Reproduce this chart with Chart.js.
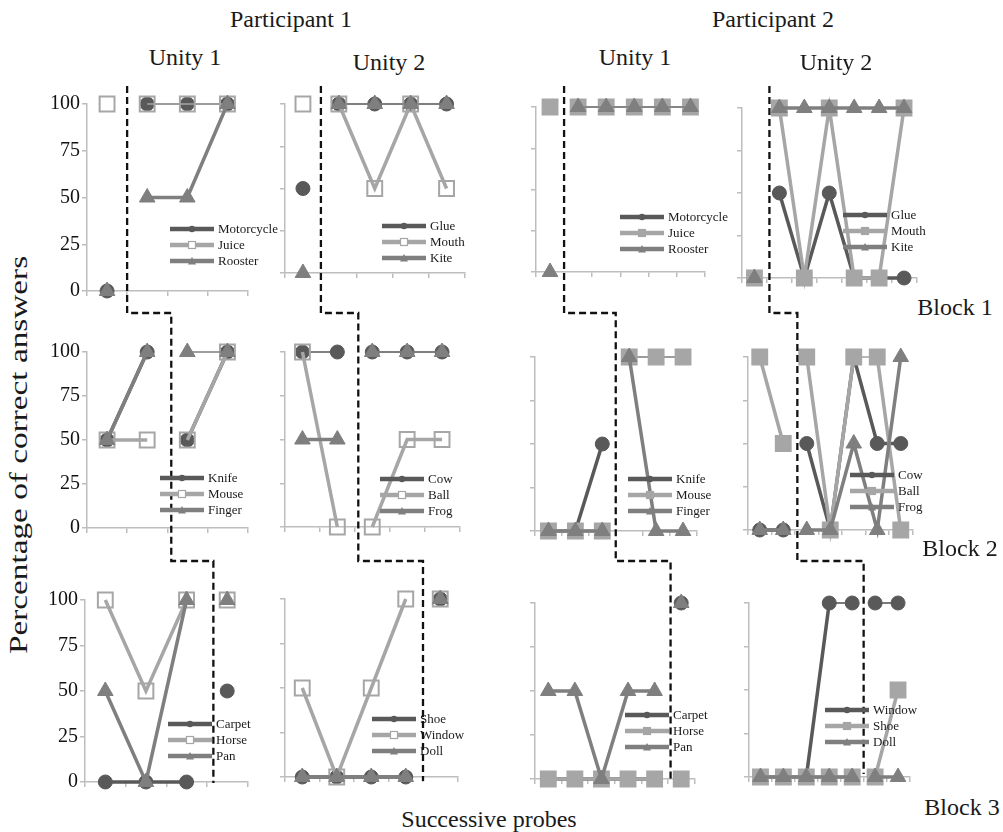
<!DOCTYPE html>
<html>
<head>
<meta charset="utf-8">
<script src="https://cdn.jsdelivr.net/npm/chart.js@4.4.0/dist/chart.umd.min.js"></script>
<style>
  html, body { margin: 0; padding: 0; background: #fff; }
  body { width: 1003px; height: 832px; position: relative; overflow: hidden;
         font-family: "Liberation Serif", "Times New Roman", serif; color: #1a1a1a; }
  .t { position: absolute; white-space: nowrap; transform: translate(-50%, -50%); }
  canvas.p { position: absolute; }
  #steps { position: absolute; left: 0; top: 0; pointer-events: none; z-index: 5; }
  .lg { position: absolute; font-size: 13px; z-index: 6; }
  .lg .row { display: flex; align-items: center; height: 16px; }
  .lg svg { display: block; margin-right: 4px; }
</style>
</head>
<body>
<canvas id="steps" width="1003" height="832"></canvas>
<script>
// Probe numbers on each x axis
const probes4 = ['1', '2', '3', '4'];
const probes5 = ['1', '2', '3', '4', '5'];
const probes6 = ['1', '2', '3', '4', '5', '6'];
const probes7 = ['1', '2', '3', '4', '5', '6', '7'];
const yTicks = [0, 25, 50, 75, 100];

// Block 1 - Participant 1
const b1p1u1Names = ['Motorcycle', 'Juice', 'Rooster'];
const b1p1u1Motorcycle = [0, 100, 100, 100];
const b1p1u1Juice = [100, 100, 100, 100];
const b1p1u1Rooster = [0, 50, 50, 100];
const b1p1u2Names = ['Glue', 'Mouth', 'Kite'];
const b1p1u2Glue = [50, 100, 100, 100, 100];
const b1p1u2Mouth = [100, 100, 50, 100, 50];
const b1p1u2Kite = [0, 100, 100, 100, 100];
// Block 1 - Participant 2
const b1p2u1Names = ['Motorcycle', 'Juice', 'Rooster'];
const b1p2u1Motorcycle = [100, 100, 100, 100, 100, 100];
const b1p2u1Juice = [100, 100, 100, 100, 100, 100];
const b1p2u1Rooster = [0, 100, 100, 100, 100, 100];
const b1p2u2Names = ['Glue', 'Mouth', 'Kite'];
const b1p2u2Glue = [0, 50, 0, 50, 0, 0, 0];
const b1p2u2Mouth = [0, 100, 0, 100, 0, 0, 100];
const b1p2u2Kite = [0, 100, 100, 100, 100, 100, 100];

// Block 2 - Participant 1
const b2p1u1Names = ['Knife', 'Mouse', 'Finger'];
const b2p1u1Knife = [50, 100, 50, 100];
const b2p1u1Mouse = [50, 50, 50, 100];
const b2p1u1Finger = [50, 100, 100, 100];
const b2p1u2Names = ['Cow', 'Ball', 'Frog'];
const b2p1u2Cow = [100, 100, 100, 100, 100];
const b2p1u2Ball = [100, 0, 0, 50, 50];
const b2p1u2Frog = [50, 50, 100, 100, 100];
// Block 2 - Participant 2
const b2p2u1Names = ['Knife', 'Mouse', 'Finger'];
const b2p2u1Knife = [0, 0, 50, 100, 100, 100];
const b2p2u1Mouse = [0, 0, 0, 100, 100, 100];
const b2p2u1Finger = [0, 0, 0, 100, 0, 0];
const b2p2u2Names = ['Cow', 'Ball', 'Frog'];
const b2p2u2Cow = [0, 0, 50, 0, 100, 50, 50];
const b2p2u2Ball = [100, 50, 100, 0, 100, 100, 0];
const b2p2u2Frog = [0, 0, 0, 0, 50, 0, 100];

// Block 3 - Participant 1
const b3p1u1Names = ['Carpet', 'Horse', 'Pan'];
const b3p1u1Carpet = [0, 0, 0, 50];
const b3p1u1Horse = [100, 50, 100, 100];
const b3p1u1Pan = [50, 0, 100, 100];
const b3p1u2Names = ['Shoe', 'Window', 'Doll'];
const b3p1u2Shoe = [0, 0, 0, 0, 100];
const b3p1u2Window = [50, 0, 50, 100, 100];
const b3p1u2Doll = [0, 0, 0, 0, 100];
// Block 3 - Participant 2
const b3p2u1Names = ['Carpet', 'Horse', 'Pan'];
const b3p2u1Carpet = [0, 0, 0, 0, 0, 100];
const b3p2u1Horse = [0, 0, 0, 0, 0, 0];
const b3p2u1Pan = [50, 50, 0, 50, 50, 100];
const b3p2u2Names = ['Window', 'Shoe', 'Doll'];
const b3p2u2Window = [0, 0, 0, 100, 100, 100, 100];
const b3p2u2Shoe = [0, 0, 0, 0, 0, 0, 50];
const b3p2u2Doll = [0, 0, 0, 0, 0, 0, 0];

// Series styling: dark circles, light squares, mid-grey triangles
const DARK = '#595959', LIGHT = '#a6a6a6', MID = '#7f7f7f';
const SERIF = "'Liberation Serif', 'Times New Roman', serif";

// Panel layout: plot box [left, top(100%), right, bottom(0%)], phase change position (category units),
// legend anchor, whether squares are hollow (participant 1) and whether flat 100% lines are drawn thin.
const panels = [
  { box: [87, 104, 248, 291], labels: probes4, names: b1p1u1Names, series: [b1p1u1Motorcycle, b1p1u1Juice, b1p1u1Rooster], phase: 0.5, legend: [170, 229], hollow: true, yText: true, thinTop: true },
  { box: [285, 104, 465, 273], labels: probes5, names: b1p1u2Names, series: [b1p1u2Glue, b1p1u2Mouth, b1p1u2Kite], phase: 0.5, legend: [382, 226], hollow: true, yText: false, thinTop: true },
  { box: [536, 107, 705, 272], labels: probes6, names: b1p2u1Names, series: [b1p2u1Motorcycle, b1p2u1Juice, b1p2u1Rooster], phase: 0.5, legend: [620, 217], hollow: false, yText: false, thinTop: true },
  { box: [742, 108, 917, 278], labels: probes7, names: b1p2u2Names, series: [b1p2u2Glue, b1p2u2Mouth, b1p2u2Kite], phase: 0.6, legend: [843, 215], hollow: false, yText: false, thinTop: false },

  { box: [87, 352, 248, 528], labels: probes4, names: b2p1u1Names, series: [b2p1u1Knife, b2p1u1Mouse, b2p1u1Finger], phase: 1.6, legend: [160, 478], hollow: true, yText: true, thinTop: true },
  { box: [285, 352, 460, 527], labels: probes5, names: b2p1u2Names, series: [b2p1u2Cow, b2p1u2Ball, b2p1u2Frog], phase: 1.6, legend: [380, 479], hollow: true, yText: false, thinTop: true },
  { box: [535, 357, 697, 531], labels: probes6, names: b2p2u1Names, series: [b2p2u1Knife, b2p2u1Mouse, b2p2u1Finger], phase: 2.5, legend: [628, 479], hollow: false, yText: false, thinTop: true },
  { box: [748, 357, 913, 530], labels: probes7, names: b2p2u2Names, series: [b2p2u2Cow, b2p2u2Ball, b2p2u2Frog], phase: 1.6, legend: [850, 475], hollow: false, yText: false, thinTop: true },

  { box: [85, 600, 248, 782], labels: probes4, names: b3p1u1Names, series: [b3p1u1Carpet, b3p1u1Horse, b3p1u1Pan], phase: 2.66, legend: [168, 724], hollow: true, yText: true, thinTop: true },
  { box: [285, 599, 458, 777], labels: probes5, names: b3p1u2Names, series: [b3p1u2Shoe, b3p1u2Window, b3p1u2Doll], phase: 3.5, legend: [372, 719], hollow: true, yText: false, thinTop: true },
  { box: [535, 603, 695, 779], labels: probes6, names: b3p2u1Names, series: [b3p2u1Carpet, b3p2u1Horse, b3p2u1Pan], phase: 4.6, legend: [625, 715], hollow: false, yText: false, thinTop: true },
  { box: [749, 603, 910, 777], labels: probes7, names: b3p2u2Names, series: [b3p2u2Window, b3p2u2Shoe, b3p2u2Doll], phase: 4.5, legend: [825, 710], hollow: false, yText: false, thinTop: true }
];

function seriesStyle(i, hollow) {
  if (i === 0) return { line: DARK, style: 'circle', r: 7, fill: DARK, edge: DARK, edgeW: 1 };
  if (i === 1) return { line: LIGHT, style: 'rect', r: 10.5, fill: hollow ? 'rgba(255,255,255,0)' : LIGHT, edge: LIGHT, edgeW: 2 };
  return { line: MID, style: 'triangle', r: 9, fill: MID, edge: MID, edgeW: 1 };
}

const PAD_L = 50, PAD_R = 12, PAD_T = 14, PAD_B = 14;
const charts = [];

panels.forEach((p) => {
  const [x0, yTop, x1, yBot] = p.box;
  const W = (x1 - x0) + PAD_L + PAD_R;
  const H = (yBot - yTop) + PAD_T + PAD_B;
  const cv = document.createElement('canvas');
  cv.className = 'p';
  cv.width = W; cv.height = H;
  cv.style.width = W + 'px'; cv.style.height = H + 'px';
  cv.style.left = (x0 - PAD_L) + 'px'; cv.style.top = (yTop - PAD_T) + 'px';
  document.body.appendChild(cv);

  const datasets = p.series.map((vals, i) => {
    const s = seriesStyle(i, p.hollow);
    return {
      label: p.names[i],
      data: vals,
      order: p.series.length - i,
      clip: false,
      tension: 0,
      borderColor: s.line,
      borderWidth: 3.5,
      borderCapStyle: 'butt',
      pointStyle: s.style,
      pointRadius: s.r,
      pointBackgroundColor: s.fill,
      pointBorderColor: s.edge,
      pointBorderWidth: s.edgeW,
      segment: {
        // no connecting line across the phase change
        borderColor: (ctx) => (ctx.p0DataIndex < p.phase && ctx.p1DataIndex > p.phase) ? 'rgba(0,0,0,0)' : undefined,
        borderWidth: (ctx) => (p.thinTop && ctx.p0.parsed.y === 100 && ctx.p1.parsed.y === 100) ? 1.6 : undefined
      }
    };
  });

  const chart = new Chart(cv, {
    type: 'line',
    data: { labels: p.labels, datasets },
    options: {
      responsive: false,
      animation: false,
      events: [],
      layout: { padding: { top: PAD_T, right: PAD_R, left: 0, bottom: 0 } },
      plugins: { legend: { display: false }, tooltip: { enabled: false } },
      scales: {
        x: {
          type: 'category',
          offset: true,
          grid: { offset: true, drawOnChartArea: false, drawTicks: true, tickLength: 5, color: '#bdbdbd', lineWidth: 1.5 },
          border: { color: '#bdbdbd', width: 1.5 },
          ticks: { display: false },
          afterFit: (s) => { s.height = PAD_B; }
        },
        y: {
          min: 0, max: 100,
          afterBuildTicks: (s) => { s.ticks = yTicks.map((v) => ({ value: v })); },
          grid: { drawOnChartArea: false, drawTicks: true, tickLength: 5, color: '#bdbdbd', lineWidth: 1.5 },
          border: { color: '#bdbdbd', width: 1.5 },
          ticks: { display: p.yText, padding: 2, color: '#111', font: { family: SERIF, size: 20 } },
          afterFit: (s) => { s.width = PAD_L; }
        }
      }
    }
  });
  charts.push({ chart, left: x0 - PAD_L, top: yTop - PAD_T });

  // legend: line swatch with marker, then the item name
  const s0 = p.legend;
  const lg = document.createElement('div');
  lg.className = 'lg';
  lg.style.left = s0[0] + 'px';
  lg.style.top = (s0[1] - 8) + 'px';
  p.names.forEach((name, i) => {
    const s = seriesStyle(i, p.hollow);
    let mark;
    if (s.style === 'circle') mark = `<circle cx="22" cy="5" r="3.2" fill="${s.fill}"/>`;
    else if (s.style === 'rect') mark = `<rect x="18.5" y="1.5" width="7" height="7" fill="${p.hollow ? '#fff' : s.fill}" stroke="${s.edge}" stroke-width="1.2"/>`;
    else mark = `<polygon points="22,1 26,8.5 18,8.5" fill="${s.fill}"/>`;
    const row = document.createElement('div');
    row.className = 'row';
    row.innerHTML = `<svg width="44" height="10"><line x1="0" y1="5" x2="44" y2="5" stroke="${s.line}" stroke-width="4.5"/>${mark}</svg><span>${name}</span>`;
    lg.appendChild(row);
  });
  document.body.appendChild(lg);
});

// Phase-change staircase: one dashed path per participant/unity column
(function drawSteps() {
  const ctx = document.getElementById('steps').getContext('2d');
  ctx.strokeStyle = '#111';
  ctx.lineWidth = 2.3;
  ctx.setLineDash([7, 4]);
  const gapY = [313, 561];
  const startY = 86;
  const endY = [783, 781, 781, 774];
  for (let col = 0; col < 4; col++) {
    const xs = [0, 1, 2].map((row) => {
      const idx = row * 4 + col;
      const c = charts[idx];
      return c.left + c.chart.scales.x.getPixelForValue(panels[idx].phase);
    });
    ctx.beginPath();
    ctx.moveTo(xs[0], startY);
    ctx.lineTo(xs[0], gapY[0]);
    ctx.lineTo(xs[1], gapY[0]);
    ctx.lineTo(xs[1], gapY[1]);
    ctx.lineTo(xs[2], gapY[1]);
    ctx.lineTo(xs[2], endY[col]);
    ctx.stroke();
  }
})();

// Headings and axis titles
const texts = [
  ['Participant 1', 291, 19, 24],
  ['Participant 2', 773, 19, 24],
  ['Unity 1', 185, 57, 24],
  ['Unity 2', 389, 62, 24],
  ['Unity 1', 635, 57, 24],
  ['Unity 2', 836, 62, 24],
  ['Block 1', 955, 307, 24],
  ['Block 2', 960, 548, 24],
  ['Block 3', 962, 807, 24],
  ['Successive probes', 489, 819, 24]
];
texts.forEach(([s, x, y, size]) => {
  const d = document.createElement('div');
  d.className = 't';
  d.textContent = s;
  d.style.left = x + 'px'; d.style.top = y + 'px'; d.style.fontSize = size + 'px';
  document.body.appendChild(d);
});
const yt = document.createElement('div');
yt.className = 't';
yt.textContent = 'Percentage of correct answers';
yt.style.left = '19px'; yt.style.top = '455px'; yt.style.fontSize = '26px';
yt.style.transform = 'translate(-50%, -50%) rotate(-90deg) scaleX(1.28)';
document.body.appendChild(yt);
</script>
</body>
</html>
